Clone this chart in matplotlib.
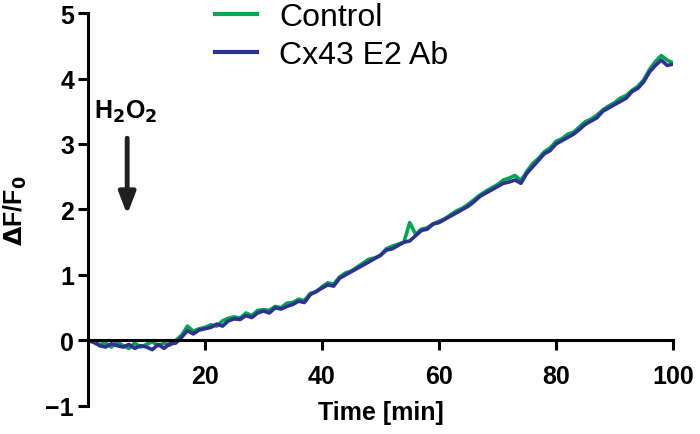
import matplotlib
matplotlib.use("Agg")
import matplotlib.pyplot as plt

# time in minutes, one sample per minute
time_min = list(range(0, 101))

control = [0.0, -0.02, -0.06, -0.04, -0.10, -0.02, -0.08, -0.12, -0.04, -0.10,
           -0.06, -0.02, -0.08, -0.04, -0.07, 0.00, 0.08, 0.22, 0.14, 0.18,
           0.20, 0.24, 0.22, 0.30, 0.34, 0.36, 0.34, 0.42, 0.38, 0.46,
           0.47, 0.46, 0.52, 0.50, 0.57, 0.58, 0.63, 0.61, 0.72, 0.74,
           0.82, 0.88, 0.86, 0.97, 1.03, 1.06, 1.12, 1.18, 1.24, 1.26,
           1.30, 1.40, 1.44, 1.47, 1.50, 1.80, 1.62, 1.70, 1.72, 1.78,
           1.82, 1.86, 1.92, 1.98, 2.02, 2.08, 2.15, 2.22, 2.28, 2.33,
           2.38, 2.45, 2.48, 2.52, 2.44, 2.58, 2.70, 2.78, 2.88, 2.94,
           3.04, 3.08, 3.15, 3.18, 3.26, 3.34, 3.38, 3.44, 3.52, 3.58,
           3.63, 3.70, 3.74, 3.82, 3.88, 3.98, 4.14, 4.26, 4.35, 4.28,
           4.24]

cx43_ab = [0.0, -0.03, -0.08, -0.10, -0.05, -0.08, -0.10, -0.06, -0.12, -0.08,
           -0.10, -0.14, -0.06, -0.12, -0.05, -0.04, 0.05, 0.15, 0.10, 0.16,
           0.18, 0.20, 0.25, 0.22, 0.30, 0.33, 0.32, 0.38, 0.35, 0.42,
           0.45, 0.42, 0.50, 0.48, 0.52, 0.55, 0.60, 0.58, 0.70, 0.75,
           0.80, 0.85, 0.83, 0.95, 1.00, 1.05, 1.10, 1.15, 1.20, 1.25,
           1.30, 1.38, 1.40, 1.45, 1.50, 1.52, 1.60, 1.68, 1.70, 1.78,
           1.80, 1.85, 1.90, 1.95, 2.00, 2.05, 2.12, 2.20, 2.25, 2.30,
           2.35, 2.40, 2.42, 2.45, 2.40, 2.55, 2.65, 2.75, 2.85, 2.90,
           3.00, 3.05, 3.10, 3.15, 3.22, 3.30, 3.35, 3.40, 3.50, 3.55,
           3.60, 3.65, 3.70, 3.80, 3.85, 3.95, 4.10, 4.20, 4.28, 4.20,
           4.22]

x_ticks = [20, 40, 60, 80, 100]
y_ticks = [-1, 0, 1, 2, 3, 4, 5]

plt.rcParams['font.family'] = ['Liberation Sans', 'DejaVu Sans']

fig = plt.figure(figsize=(7, 4.35), dpi=100)
ax = fig.add_axes([0.1257, 0.0644, 0.8357, 0.9034])

ax.plot(time_min, control, color='#00A651', lw=2.6, label='Control')
ax.plot(time_min, cx43_ab, color='#2E3192', lw=2.6, label='Cx43 E2 Ab')

ax.set_xlim(0, 100)
ax.set_ylim(-1, 5)
ax.spines['top'].set_visible(False)
ax.spines['right'].set_visible(False)
ax.spines['bottom'].set_position(('data', 0))
for s in ('left', 'bottom'):
    ax.spines[s].set_linewidth(2.2)
ax.set_xticks(x_ticks)
ax.set_yticks(y_ticks)
ax.tick_params(width=2.2, length=7, labelsize=18, pad=3)
for lbl in ax.get_xticklabels() + ax.get_yticklabels():
    lbl.set_fontweight('bold')
ax.tick_params(axis='x', pad=10)

ax.set_xlabel('Time [min]', fontsize=18, fontweight='bold')
ax.xaxis.set_label_coords(0.5, 0.015)
ax.set_ylabel(r'$\mathbf{\Delta}$F/F$_\mathbf{0}$', fontsize=18, fontweight='bold')
ax.yaxis.set_label_coords(-0.1, 0.5)

ax.text(6.5, 3.5, r'H$_\mathbf{2}$O$_\mathbf{2}$', fontsize=18, fontweight='bold',
        ha='center', va='center')
ax.annotate('', xy=(6.7, 1.88), xytext=(6.7, 3.13),
            arrowprops=dict(arrowstyle='-|>,head_width=0.5,head_length=1.3',
                            color='#231F20', lw=3.5))

leg = ax.legend(loc='upper left', bbox_to_anchor=(0.196, 1.06), frameon=False,
                fontsize=23, handlelength=1.3, handletextpad=0.7,
                labelspacing=0.25, borderaxespad=0)
for line in leg.get_lines():
    line.set_linewidth(3)

fig.savefig('out.png', dpi=100)
